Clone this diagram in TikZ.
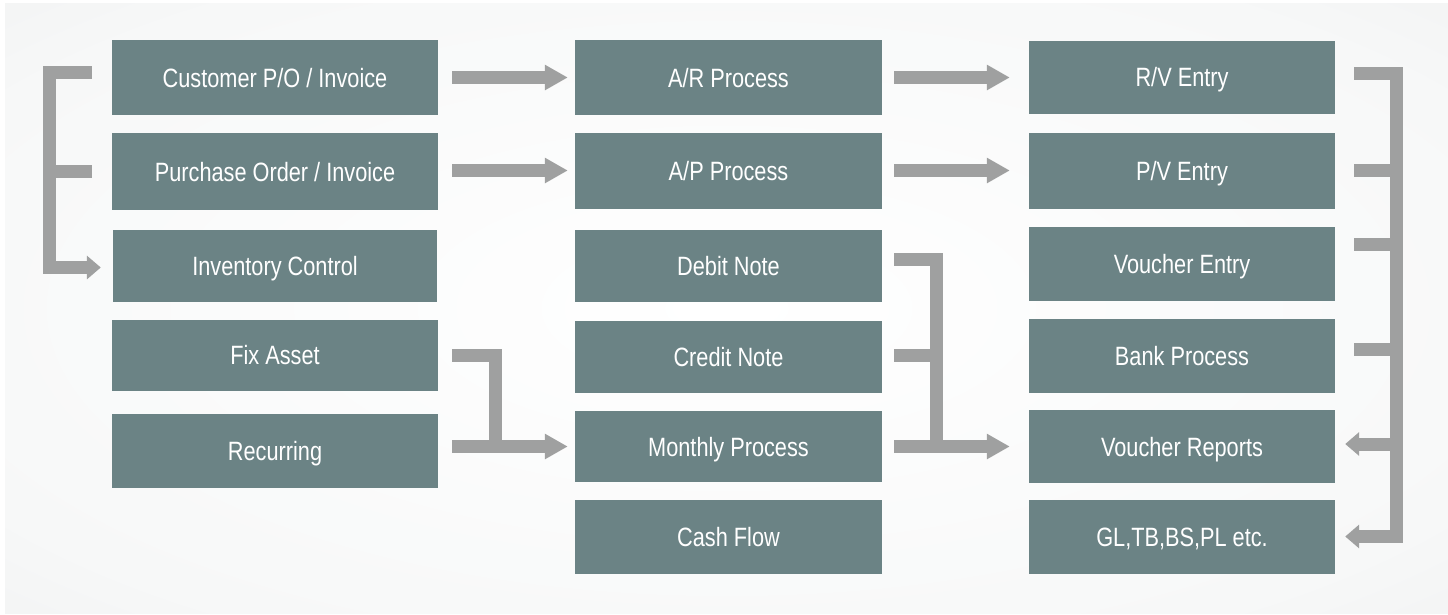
\documentclass[tikz,border=0pt]{standalone}
\usepackage{fontspec}
\setmainfont{Liberation Sans}[FakeStretch=0.82]
\usetikzlibrary{arrows.meta}
\definecolor{boxc}{HTML}{6B8385}
\definecolor{arrc}{HTML}{9FA0A0}
\definecolor{bgmid}{HTML}{F7F8F8}
\definecolor{bgout}{HTML}{DCDDDE}
\pgfdeclareradialshading{bgshade}{\pgfpoint{0bp}{0bp}}{color(0bp)=(white); color(30bp)=(bgmid); color(72bp)=(bgout)}
\tikzset{
  box/.style={fill=boxc, text=white, inner sep=0pt, text height=19pt, text depth=0pt, font=\fontsize{26.5}{30}\selectfont},
  lcol/.style={box, minimum width=326pt},
  mcol/.style={box, minimum width=307pt},
  rcol/.style={box, minimum width=306pt},
  conn/.style={draw=arrc, line width=13pt, line join=miter},
  tip/.style={-{Triangle[length=23pt,width=24pt]}},
  btip/.style={-{Triangle[length=14pt,width=23pt]}}
}
\begin{document}
\begin{tikzpicture}[x=1pt,y=-1pt]
\useasboundingbox (0,0) rectangle (1448,614);
\fill[white] (0,0) rectangle (1448,614);
\shade[shading=bgshade] (5,3) rectangle (1448,613);
% left column
\node[lcol, minimum height=75pt] (cpo) at (275,77.5) {Customer P/O / Invoice};
\node[lcol, minimum height=77pt] (po)  at (275,171.5) {Purchase Order / Invoice};
\node[box, minimum width=324pt, minimum height=72pt] (inv) at (275,266) {Inventory Control};
\node[lcol, minimum height=71pt] (fix) at (275,355) {Fix Asset};
\node[lcol, minimum height=74pt] (rec) at (275,451) {Recurring};
% middle column
\node[mcol, minimum height=75pt] (ar)  at (728.5,77.5) {A/R Process};
\node[mcol, minimum height=76pt] (ap)  at (728.5,170.5) {A/P Process};
\node[mcol, minimum height=72pt] (deb) at (728.5,265.5) {Debit Note};
\node[mcol, minimum height=72pt] (cre) at (728.5,356.5) {Credit Note};
\node[mcol, minimum height=71pt] (mon) at (728.5,446.5) {Monthly Process};
\node[mcol, minimum height=74pt] (cf)  at (728.5,537) {Cash Flow};
% right column
\node[rcol, minimum height=73pt] (rv)   at (1182,77) {R/V Entry};
\node[rcol, minimum height=76pt] (pv)   at (1182,170.5) {P/V Entry};
\node[rcol, minimum height=74pt] (ve)   at (1182,264) {Voucher Entry};
\node[rcol, minimum height=74pt] (bank) at (1182,355.5) {Bank Process};
\node[rcol, minimum height=73pt] (vrep) at (1182,446.5) {Voucher Reports};
\node[rcol, minimum height=74pt] (gl)   at (1182,537) {GL,TB,BS,PL etc.};
% straight arrows
\draw[conn, tip] ([xshift=14pt]cpo.east) -- ([xshift=-7pt]ar.west);
\draw[conn, tip] ([xshift=14pt]po.east |- ap.west) -- ([xshift=-7pt]ap.west);
\draw[conn, tip] ([xshift=12pt]ar.east) -- ([xshift=-19pt]rv.west |- ar.east);
\draw[conn, tip] ([xshift=12pt]ap.east) -- ([xshift=-19pt]pv.west |- ap.east);
% left bracket
\coordinate (lbt) at (49.5,72.5);
\coordinate (lbb) at (49.5,267.5);
\draw[conn, btip] ([xshift=-20pt]cpo.west |- lbt) -- (lbt) -- (lbb) -- ([xshift=-12pt]inv.west |- lbb);
\draw[conn] ([xshift=-20pt]po.west) -- (po.west -| lbt);
% fix asset / recurring to monthly
\coordinate (jl) at (495,446.5);
\draw[conn] ([xshift=14pt]fix.east) -- (fix.east -| jl) -- (jl);
\draw[conn, tip] ([xshift=14pt]rec.east |- mon.west) -- ([xshift=-7pt]mon.west);
% debit / credit / monthly to voucher reports
\coordinate (jr) at (936.5,446.5);
\path ([xshift=12pt,yshift=6pt]deb.east) coordinate (debs);
\draw[conn] (debs) -- (debs -| jr) -- (jr);
\draw[conn] ([xshift=12pt,yshift=1.5pt]cre.east) coordinate (cres) -- (cres -| jr);
\draw[conn, tip] ([xshift=12pt]mon.east) -- ([xshift=-19pt]vrep.west |- mon.east);
% right bracket
\coordinate (rbt) at (1396.5,73.5);
\coordinate (rbb) at (1396.5,536.5);
\draw[conn, btip] ([xshift=19pt]rv.east |- rbt) -- (rbt) -- (rbb) -- ([xshift=10pt]gl.east |- rbb);
\draw[conn] ([xshift=19pt]pv.east) -- (pv.east -| rbt);
\path ([xshift=19pt,yshift=20pt]ve.east) coordinate (ves);
\draw[conn] (ves) -- (ves -| rbt);
\path ([xshift=19pt,yshift=6.5pt]bank.east) coordinate (bks);
\draw[conn] (bks) -- (bks -| rbt);
\path ([yshift=2.5pt]vrep.east) coordinate (vra);
\draw[conn, btip] (vra -| rbt) -- ([xshift=10pt]vra);
\end{tikzpicture}
\end{document}
